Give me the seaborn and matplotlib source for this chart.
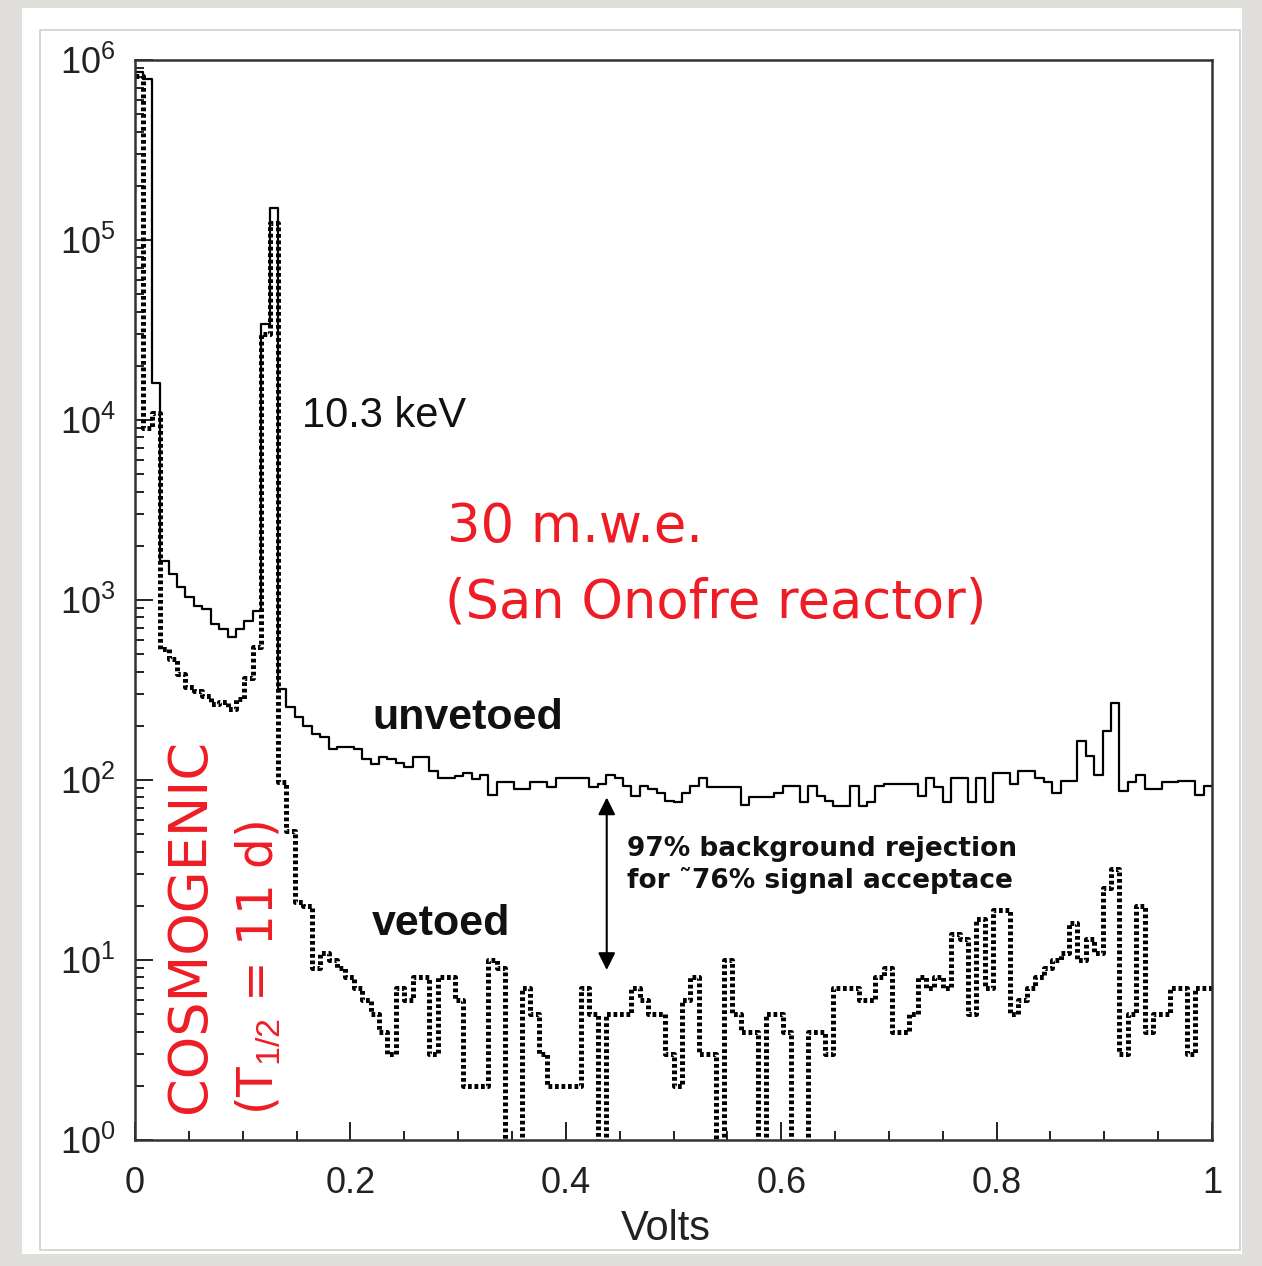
import numpy as np
import pandas as pd
import matplotlib
matplotlib.use("Agg")
import matplotlib.pyplot as plt
import seaborn as sns
from matplotlib.patches import Rectangle
from matplotlib.ticker import FixedLocator, MultipleLocator, LogFormatterMathtext, NullFormatter, FuncFormatter

# ---- histogram data: 128 bins of pulse amplitude from 0 to 1 V ----
n_bins = 128
volt_range = (0.0, 1.0)
bin_edges = np.linspace(volt_range[0], volt_range[1], n_bins + 1)

unvetoed_counts = [
    860000, 780000, 16000, 1650, 1390, 1180, 1040, 925,
    890, 735, 690, 620, 690, 760, 870, 34000,
    150000, 320, 254, 223, 199, 179, 173, 148,
    152, 152, 148, 130, 122, 135, 130, 125,
    118, 134, 135, 112, 103, 103, 105, 110,
    101, 106, 83, 97, 97, 89, 89, 98,
    98, 92, 103, 103, 103, 103, 92, 95,
    107, 103, 93, 81, 93, 89, 85, 76,
    75, 85, 93, 103, 91, 91, 91, 91,
    73, 80, 80, 80, 85, 93, 93, 75,
    93, 81, 76, 72, 72, 93, 72, 75,
    93, 95, 95, 95, 95, 81, 103, 91,
    75, 103, 103, 75, 103, 75, 110, 110,
    95, 112, 112, 103, 97, 85, 99, 99,
    165, 136, 107, 187, 269, 87, 97, 107,
    89, 89, 97, 97, 99, 99, 83, 93,
]

vetoed_counts = [
    820000, 9000, 11000, 533, 469, 387, 328, 311,
    292, 264, 270, 247, 281, 370, 548, 30000,
    124000, 97, 52, 21, 20, 9, 11, 10,
    9, 8, 7, 6, 5, 4, 3, 7,
    6, 8, 8, 3, 8, 8, 6, 2,
    2, 2, 10, 9, 0, 0, 7, 5,
    3, 2, 2, 2, 2, 7, 5, 0,
    5, 5, 5, 7, 6, 5, 5, 3,
    2, 6, 8, 3, 3, 0, 10, 5,
    4, 4, 0, 5, 5, 4, 0, 0,
    4, 4, 3, 7, 7, 7, 6, 6,
    8, 9, 4, 4, 5, 8, 7, 8,
    7, 14, 13, 5, 17, 7, 19, 19,
    5, 6, 7, 8, 9, 10, 11, 16,
    10, 13, 11, 25, 32, 3, 5, 20,
    4, 5, 5, 7, 7, 3, 7, 7,
]

assert len(unvetoed_counts) == n_bins and len(vetoed_counts) == n_bins

x_tick_values = [0, 0.2, 0.4, 0.6, 0.8, 1.0]
x_tick_labels = ["0", "0.2", "0.4", "0.6", "0.8", "1"]
y_decades = [1, 10, 100, 1000, 10000, 100000, 1000000]

centers = 0.5 * (bin_edges[:-1] + bin_edges[1:])
spectra = pd.DataFrame({
    "volts": np.concatenate([centers, centers]),
    "counts": np.concatenate([unvetoed_counts, vetoed_counts]).astype(float),
    "sample": ["unvetoed"] * n_bins + ["vetoed"] * n_bins,
})

W, H = 1262, 1266
sns.set_style("ticks")
plt.rcParams["font.family"] = ["Liberation Sans", "DejaVu Sans"]
plt.rcParams["mathtext.fontset"] = "custom"
plt.rcParams["mathtext.rm"] = "Liberation Sans"
plt.rcParams["mathtext.it"] = "Liberation Sans:italic"

fig = plt.figure(figsize=(W / 100, H / 100), dpi=100)
fig.patch.set_facecolor("#e1dfdb")


def fx(px):
    return px / W


def fy(py):
    return 1 - py / H


# white card behind the plot
fig.patches.append(Rectangle((fx(22), fy(1254)), fx(1242) - fx(22), fy(8) - fy(1254),
                             transform=fig.transFigure, facecolor="white",
                             edgecolor="none", zorder=-5))
fig.patches.append(Rectangle((fx(40), fy(1250)), fx(1240) - fx(40), fy(30) - fy(1250),
                             transform=fig.transFigure, facecolor="none",
                             edgecolor="#cfcfcf", linewidth=1.2, zorder=-4))

ax = fig.add_axes([fx(135), fy(1140), fx(1212) - fx(135), fy(60) - fy(1140)])
ax.set_facecolor("white")
ax.set_zorder(1)

sns.histplot(data=spectra[spectra["sample"] == "unvetoed"], x="volts", weights="counts",
             bins=n_bins, binrange=volt_range, element="step", fill=False, color="black",
             linewidth=1.6, ax=ax)
sns.histplot(data=spectra[spectra["sample"] == "vetoed"], x="volts", weights="counts",
             bins=n_bins, binrange=volt_range, element="step", fill=False, color="black",
             linewidth=3.6, linestyle=(0, (0.75, 0.55)), ax=ax)

ax.set_yscale("log", nonpositive="clip")
ax.set_xlim(0, 1)
ax.set_ylim(1, 1e6)


def x_label_for(v, pos):
    for tv, tl in zip(x_tick_values, x_tick_labels):
        if abs(v - tv) < 1e-6:
            return tl
    return ""


ax.xaxis.set_major_locator(FixedLocator(x_tick_values))
ax.xaxis.set_major_formatter(FuncFormatter(x_label_for))
ax.xaxis.set_minor_locator(MultipleLocator(0.05))
ax.yaxis.set_major_locator(FixedLocator(y_decades))
ax.yaxis.set_major_formatter(LogFormatterMathtext())
ax.yaxis.set_minor_locator(FixedLocator([m * d for d in y_decades[:-1] for m in range(2, 10)]))
ax.yaxis.set_minor_formatter(NullFormatter())

ax.tick_params(which="both", direction="in", top=False, right=False,
               width=1.4, color="#222222", labelsize=26, labelcolor="#222222")
ax.tick_params(which="major", length=13)
ax.tick_params(which="minor", length=6.5)
ax.tick_params(axis="x", pad=19)
ax.tick_params(axis="y", pad=14)
for s in ax.spines.values():
    s.set_linewidth(1.8)
    s.set_color("#333333")

ax.set_ylabel("")
ax.set_xlabel("Volts", fontsize=30, color="#222222")
ax.xaxis.set_label_coords(0.493, -0.064)

# annotations
fig.text(fx(302), fy(416), "10.3 keV", fontsize=30, color="#111111", ha="left", va="center", zorder=3)
red = "#ee1c25"
fig.text(fx(447), fy(527), "30 m.w.e.", fontsize=38, color=red, ha="left", va="center",
         family="DejaVu Sans", zorder=3)
fig.text(fx(445), fy(602), "(San Onofre reactor)", fontsize=38, color=red, ha="left",
         va="center", family="DejaVu Sans", zorder=3)
fig.text(fx(372), fy(718), "unvetoed", fontsize=31, weight="bold", color="#111111",
         ha="left", va="center", zorder=3)
fig.text(fx(372), fy(924), "vetoed", fontsize=31, weight="bold", color="#111111",
         ha="left", va="center", zorder=3)
fig.text(fx(627), fy(849), "97% background rejection", fontsize=19, weight="bold",
         color="#111111", ha="left", va="center", family="DejaVu Sans", zorder=3)
fig.text(fx(627), fy(881), "for \u02dc76% signal acceptace", fontsize=19, weight="bold",
         color="#111111", ha="left", va="center", family="DejaVu Sans", zorder=3)
fig.text(fx(190), fy(926), "COSMOGENIC", fontsize=39, color=red, rotation=90,
         ha="center", va="center", family="DejaVu Sans", zorder=3)
fig.text(fx(258), fy(968), r"(T$_{1/2}$ = 11 d)", fontsize=35, color=red, rotation=90,
         ha="center", va="center", family="DejaVu Sans", zorder=3)

ax.annotate("", xy=(0.438, 80), xytext=(0.438, 8.8),
            arrowprops=dict(arrowstyle="<|-|>", color="black", lw=1.5,
                            mutation_scale=26, shrinkA=0, shrinkB=0))

fig.savefig("out.png", dpi=100, facecolor=fig.get_facecolor())
